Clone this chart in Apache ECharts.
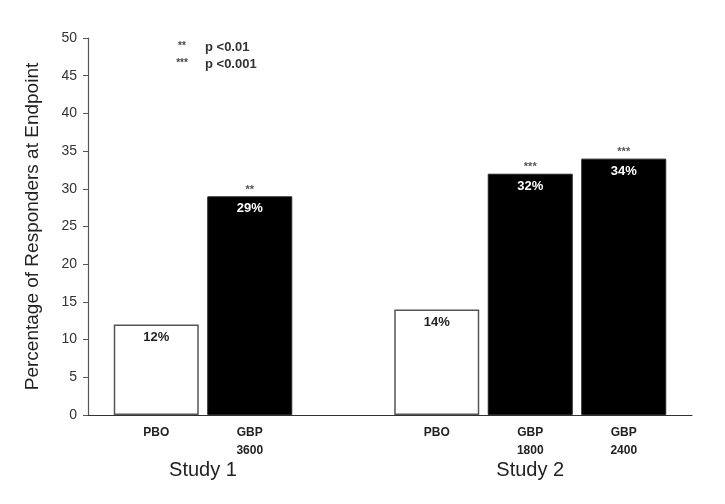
<!DOCTYPE html>
<html>
<head>
<meta charset="utf-8">
<script src="https://cdn.jsdelivr.net/npm/echarts@6/dist/echarts.min.js"></script>
<style>html,body{margin:0;padding:0;background:#fff}#c{width:725px;height:504px}</style>
</head>
<body>
<div id="c"></div>
<script>
// Data
const categories = ['PBO', 'GBP\n3600', '', 'PBO', 'GBP\n1800', 'GBP\n2400'];
const values = [12, 29, null, 14, 32, 34];
const significance = ['', '**', '', '', '***', '***'];
const studies = ['Study 1', 'Study 2'];
const studyMembers = [[0, 1], [3, 4, 5]];
const yTicks = [0, 5, 10, 15, 20, 25, 30, 35, 40, 45, 50];
const legendStars = ['**', '***'];
const legendText = ['p <0.01', 'p <0.001'];

const FONT = '"Liberation Sans", Arial, sans-serif';
const isPlacebo = i => categories[i] === 'PBO';

const barData = values.map((v, i) => v == null ? null : {
  value: [i, v],
  itemStyle: isPlacebo(i)
    ? { color: '#ffffff', borderColor: '#555', borderWidth: 1.5 }
    : { color: '#000000', borderColor: '#222', borderWidth: 1 },
  label: { color: isPlacebo(i) ? '#222' : '#ffffff' }
}).filter(d => d);

const starData = values.map((v, i) => v == null ? null : { value: [i, v], sig: significance[i] }).filter(d => d);

const chart = echarts.init(document.getElementById('c'), null, { renderer: 'canvas' });
const option = {
  animation: false,
  backgroundColor: '#fff',
  grid: { left: 88, right: 33, top: 38, bottom: 89, containLabel: false },
  xAxis: {
    type: 'value',
    min: -0.73,
    max: 5.73,
    splitLine: { show: false },
    axisLine: { show: true, onZero: false, lineStyle: { color: '#333', width: 1.2 } },
    axisTick: { show: false },
    axisLabel: {
      customValues: categories.map((c, i) => i).filter(i => categories[i] !== ''),
      formatter: v => categories[Math.round(v)] || '',
      fontFamily: FONT, fontSize: 12, fontWeight: 'bold', color: '#222',
      lineHeight: 18, margin: 9
    }
  },
  yAxis: {
    type: 'value',
    min: 0, max: 50, interval: 5,
    name: 'Percentage of Responders at Endpoint',
    nameLocation: 'middle',
    nameGap: 46,
    nameTextStyle: { fontFamily: FONT, fontSize: 19, fontWeight: 'normal', color: '#222' },
    splitLine: { show: false },
    axisLine: { show: true, onZero: false, lineStyle: { color: '#555', width: 1.2 } },
    axisTick: { show: true, inside: false, length: 5, lineStyle: { color: '#555' } },
    axisLabel: { fontFamily: FONT, fontSize: 14, color: '#333', margin: 11,
      customValues: yTicks }
  },
  series: [
    {
      type: 'bar',
      barWidth: 85,
      data: barData,
      label: {
        show: true, position: 'insideTop', distance: 6,
        fontFamily: FONT, fontSize: 13, fontWeight: 'bold',
        formatter: p => p.value[1] + '%'
      },
      z: 2
    },
    {
      type: 'bar',
      barWidth: 85,
      barGap: '-100%',
      data: starData,
      itemStyle: { color: 'rgba(0,0,0,0)' },
      label: {
        show: true, position: 'top', distance: 1,
        fontFamily: FONT, fontSize: 11, fontWeight: 'bold', color: '#555',
        formatter: p => p.data.sig
      },
      silent: true,
      z: 3
    }
  ]
};
chart.setOption(option);

// Group labels and significance key
const graphics = [];
studies.forEach((s, k) => {
  const m = studyMembers[k];
  const center = (m[0] + m[m.length - 1]) / 2;
  const px = chart.convertToPixel({ xAxisIndex: 0 }, center);
  graphics.push({
    type: 'text', x: px, y: 470,
    style: { text: s, fontFamily: FONT, fontSize: 20, fill: '#222', align: 'center', verticalAlign: 'middle' }
  });
});
legendStars.forEach((st, k) => {
  graphics.push({
    type: 'text', x: 182, y: 46 + k * 17,
    style: { text: st, fontFamily: FONT, fontSize: 10, fontWeight: 'bold', fill: '#444', align: 'center', verticalAlign: 'middle' }
  });
  graphics.push({
    type: 'text', x: 205, y: 47 + k * 17,
    style: { text: legendText[k], fontFamily: FONT, fontSize: 13, fontWeight: 'bold', fill: '#333', align: 'left', verticalAlign: 'middle' }
  });
});
chart.setOption({ graphic: graphics });
</script>
</body>
</html>
